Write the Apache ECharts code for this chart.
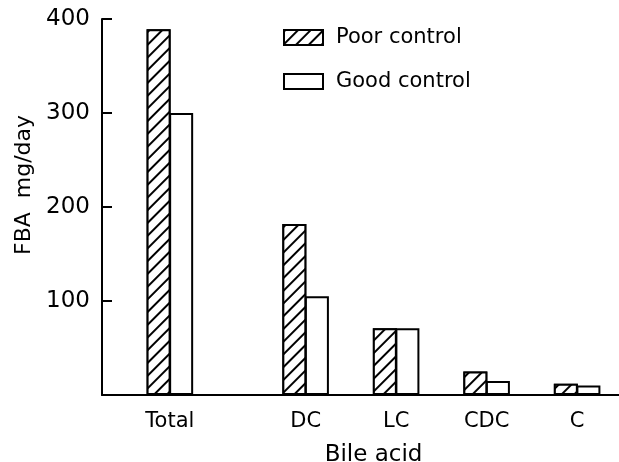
<!DOCTYPE html>
<html>
<head>
<meta charset="utf-8">
<script src="https://cdn.jsdelivr.net/npm/echarts@6/dist/echarts.min.js"></script>
<style>
  html, body { margin: 0; padding: 0; background: #fff; }
  #main { width: 619px; height: 462px; }
</style>
</head>
<body>
<div id="main"></div>
<script>
// bile acids, spaced on a half-step axis (gap after Total)
const categories = ["Total", "DC", "LC", "CDC", "C"];
const slots = [1, 4, 6, 8, 10];
const poorControl = [389, 182, 71, 25, 12];
const goodControl = [300, 105, 71, 15, 10];
const yTicks = [100, 200, 300, 400];

const axisCats = [];
for (let i = 0; i < 12; i++) axisCats.push("_" + i);
slots.forEach((s, i) => { axisCats[s] = categories[i]; });

function pad(values) {
  const out = axisCats.map(() => null);
  slots.forEach((s, i) => { out[s] = values[i]; });
  return out;
}

const font = "DejaVu Sans";
const hatch = {
  symbol: "rect",
  color: "#000",
  backgroundColor: "#fff",
  dashArrayX: [1, 0],
  dashArrayY: [1.3, 6.5],
  rotation: -Math.PI / 4
};

let myChart = echarts.init(document.getElementById("main"));
myChart.setOption({
  animation: false,
  backgroundColor: "#fff",
  grid: { left: 102, right: -26, top: 19, bottom: 67, outerBoundsMode: "none" },
  legend: {
    orient: "vertical",
    left: 278,
    top: 22,
    icon: "rect",
    itemWidth: 39,
    itemHeight: 15,
    itemGap: 23,
    textStyle: { fontFamily: font, fontSize: 21, color: "#000", padding: [0, 0, 0, 8] },
    data: ["Poor control", "Good control"]
  },
  graphic: [{
    type: "text",
    x: 24,
    y: 185,
    rotation: Math.PI / 2,
    style: {
      text: "FBA  mg/day",
      fontFamily: font,
      fontSize: 22,
      fill: "#000",
      align: "center",
      verticalAlign: "middle"
    }
  }],
  xAxis: {
    type: "category",
    data: axisCats,
    name: "Bile acid",
    nameLocation: "middle",
    nameGap: 49,
    nameTextStyle: { fontFamily: font, fontSize: 23, color: "#000" },
    axisLine: { lineStyle: { color: "#000", width: 2 } },
    axisTick: { show: false },
    axisLabel: {
      interval: 0,
      margin: 16,
      fontFamily: font,
      fontSize: 21,
      color: "#000",
      formatter: v => (v.charAt(0) === "_" ? "" : v)
    }
  },
  yAxis: {
    type: "value",
    min: 0,
    max: 400,
    interval: 100,
    splitLine: { show: false },
    axisLine: { show: true, lineStyle: { color: "#000", width: 2 } },
    axisTick: { show: true, inside: true, length: 10, lineStyle: { color: "#000", width: 2 } },
    axisLabel: {
      margin: 12,
      fontFamily: font,
      fontSize: 23,
      color: "#000",
      formatter: v => (yTicks.indexOf(v) >= 0 ? String(v) : "")
    }
  },
  series: [
    {
      name: "Poor control",
      type: "bar",
      data: pad(poorControl),
      barWidth: 24,
      barGap: "-6%",
      itemStyle: { color: "#fff", borderColor: "#000", borderWidth: 2, decal: hatch }
    },
    {
      name: "Good control",
      type: "bar",
      data: pad(goodControl),
      barWidth: 24,
      barGap: "-6%",
      itemStyle: { color: "#fff", borderColor: "#000", borderWidth: 2 }
    }
  ]
});
</script>
</body>
</html>
